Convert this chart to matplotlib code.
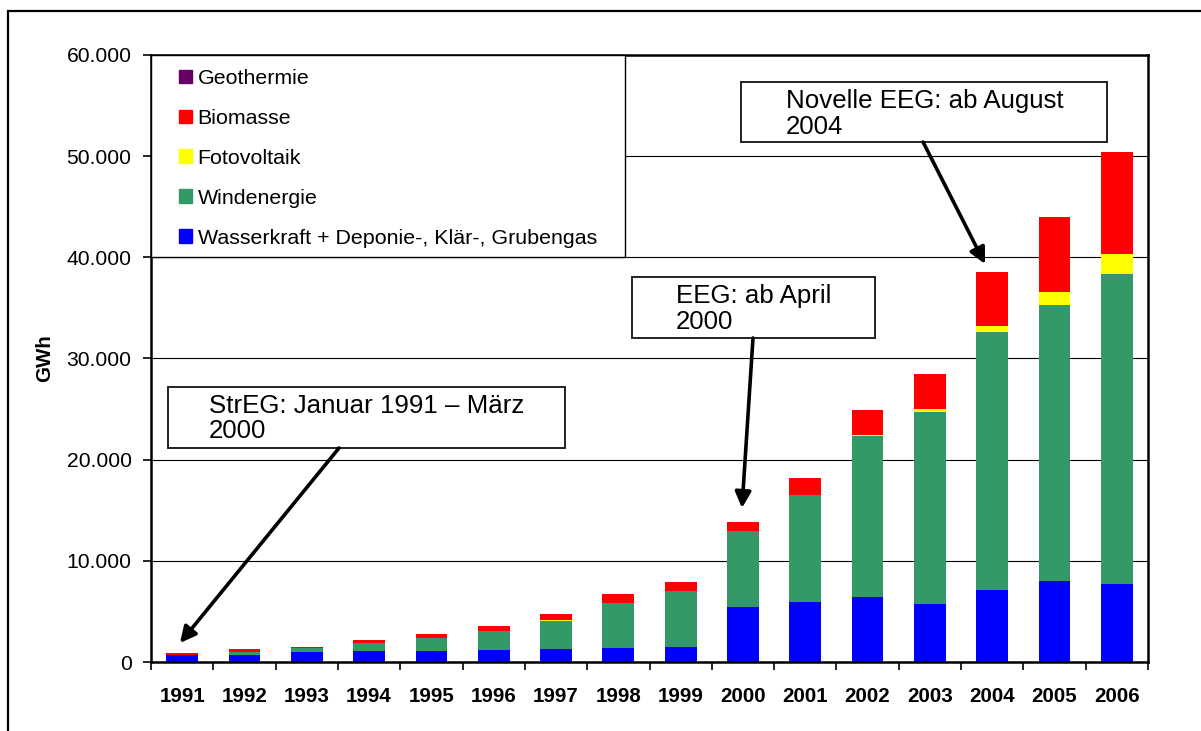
import matplotlib
matplotlib.use("Agg")
import matplotlib.pyplot as plt
from matplotlib.patches import Patch, Rectangle
from matplotlib.ticker import FuncFormatter, MultipleLocator
import numpy as np

plt.rcParams['font.family'] = ['Liberation Sans', 'DejaVu Sans']

# Stromerzeugung aus erneuerbaren Energien (GWh)
years = ["1991", "1992", "1993", "1994", "1995", "1996", "1997", "1998",
         "1999", "2000", "2001", "2002", "2003", "2004", "2005", "2006"]
wasser = [660, 740, 940, 1040, 1040, 1140, 1240, 1430, 1530, 5390, 5980, 6430, 5760, 7130, 8020, 7730]
wind = [40, 270, 430, 790, 1320, 1880, 2860, 4360, 5440, 7520, 10490, 15920, 18960, 25500, 27290, 30650]
pv = [0, 0, 0, 60, 10, 10, 20, 30, 30, 40, 80, 120, 320, 600, 1270, 1980]
bio = [160, 230, 160, 300, 360, 490, 600, 890, 890, 890, 1600, 2470, 3460, 5330, 7420, 10060]
geo = [0, 0, 0, 0, 0, 0, 0, 0, 0, 0, 0, 0, 0, 0.2, 0.2, 0.4]

series = [
    ("Wasserkraft + Deponie-, Klär-, Grubengas", wasser, "#0000FF"),
    ("Windenergie", wind, "#339966"),
    ("Fotovoltaik", pv, "#FFFF00"),
    ("Biomasse", bio, "#FF0000"),
    ("Geothermie", geo, "#660066"),
]

fig = plt.figure(figsize=(12.01, 7.31), dpi=100)
ax = fig.add_axes([151/1201, 69/731, 997/1201, 607/731])

x = np.arange(len(years))
bottom = np.zeros(len(years))
for name, vals, col in series:
    ax.bar(x, vals, width=0.51, bottom=bottom, color=col, linewidth=0, zorder=2)
    bottom += np.array(vals)

ax.set_xlim(-0.5, len(years) - 0.5)
ax.set_ylim(0, 60000)
ax.yaxis.set_major_locator(MultipleLocator(10000))
ax.yaxis.set_major_formatter(FuncFormatter(lambda v, p: f"{int(v):,}".replace(",", ".")))
ax.grid(axis="y", color="black", linewidth=0.8, zorder=0)
ax.set_axisbelow(True)

ax.set_xticks(x)
ax.set_xticklabels(years, fontweight="bold", fontsize=14.8)
ax.set_xticks(np.arange(-0.5, len(years)), minor=True)
ax.tick_params(axis="x", which="major", length=0, pad=18)
ax.tick_params(axis="x", which="minor", length=6, width=1.2, direction="out")
ax.tick_params(axis="y", length=6, width=1.2, direction="out", labelsize=15.2, pad=8)
for s in ax.spines.values():
    s.set_linewidth(1.8)

fig.text(45/1201, 1 - 358/731, "GWh", rotation=90, fontsize=14.8, fontweight="bold",
         ha="center", va="center")

# legend with its own frame
ax.add_patch(Rectangle((0, 405/607), 474/997, 202/607, transform=ax.transAxes,
                       facecolor="white", edgecolor="black", linewidth=1.0, zorder=5,
                       clip_on=False))
handles = [Patch(color=col, label=name) for name, vals, col in series[::-1]]
leg = ax.legend(handles=handles, loc="upper left", bbox_to_anchor=(28/997, 1 - 14/607),
                frameon=False, fontsize=15.4, handlelength=0.62, handleheight=0.62,
                handletextpad=0.25, labelspacing=0.98, borderpad=0, borderaxespad=0)
leg.set_zorder(6)

# annotations: text boxes with arrows
boxes = [
    ("StrEG: Januar 1991 – März\n2000", (-0.227, 21150), (6.371, 6030), (0.431, 26500),
     (2.517, 21150), (-0.035, 1880)),
    ("EEG: ab April\n2000", (7.219, 32025), (3.900, 6030), (7.926, 37350),
     (9.161, 32025), (8.984, 15220)),
    ("Novelle EEG: ab August\n2004", (8.969, 51400), (5.874, 5930), (9.691, 56640),
     (11.89, 51400), (12.885, 39340)),
]
for txt, (bx, by), (bw, bh), (tx, ty), start, tip in boxes:
    ax.add_patch(Rectangle((bx, by), bw, bh, facecolor="white", edgecolor="#222222",
                           linewidth=1.4, zorder=7))
    ax.text(tx, ty, txt, fontsize=18.6, ha="left", va="top", linespacing=1.08, zorder=8)
    ax.annotate("", xy=tip, xytext=start,
                arrowprops=dict(arrowstyle="-|>", color="black", lw=2.6,
                                mutation_scale=24, shrinkA=0, shrinkB=0),
                zorder=8)

# outer frame of the chart area
fig.patches.append(Rectangle((8/1201, -0.1), 1.2, 1.1 - 11/731, transform=fig.transFigure,
                             fill=False, edgecolor="black", linewidth=1.6))

fig.savefig("out.png", dpi=100)
